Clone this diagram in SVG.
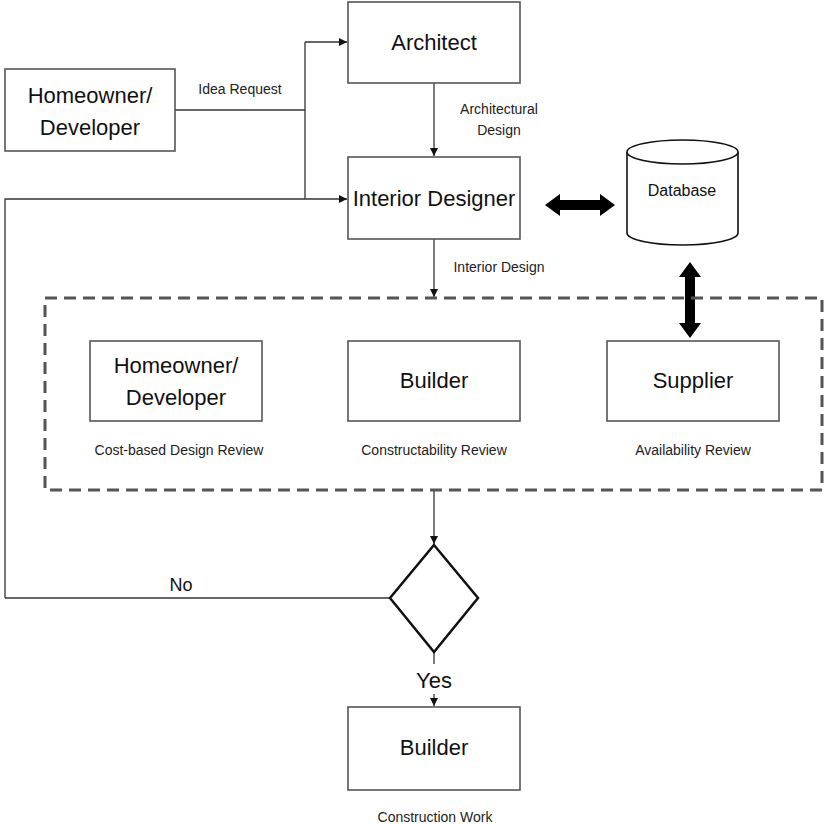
<svg xmlns="http://www.w3.org/2000/svg" width="827" height="824" viewBox="0 0 827 824">
<style>
.box{fill:#fff;stroke:#555;stroke-width:1.6}
.big{font-family:"Liberation Sans",Arial,sans-serif;font-size:22px;fill:#111;text-anchor:middle}
.sm{font-family:"Liberation Sans",Arial,sans-serif;font-size:14px;fill:#222;text-anchor:middle}
.ln{fill:none;stroke:#333;stroke-width:1.3}
.thick{fill:#000;stroke:none}
</style>
<defs>
<marker id="ah" viewBox="0 0 10 10" refX="10" refY="5" markerWidth="8" markerHeight="8" markerUnits="userSpaceOnUse" orient="auto">
<path d="M0,0 L10,5 L0,10 z" fill="#111"/>
</marker>
</defs>
<rect width="827" height="824" fill="#fff"/>
<g id="connectors">
<path class="ln" d="M175,110 H305"/>
<path class="ln" d="M305,42 V199"/>
<path class="ln" d="M305,42 H347" marker-end="url(#ah)"/>
<path class="ln" d="M5,598 V199 H347" marker-end="url(#ah)"/>
<path class="ln" d="M434,83 V156" marker-end="url(#ah)"/>
<path class="ln" d="M434,239 V297" marker-end="url(#ah)"/>
<path class="ln" d="M434,491 V544" marker-end="url(#ah)"/>
<path class="ln" d="M390,598 H5"/>
<path class="ln" d="M434,652 V664"/>
<path class="ln" d="M434,694 V706" marker-end="url(#ah)"/>
<path class="thick" d="M545,205 L560,194 L560,200 L600,200 L600,194 L615,205 L600,216 L600,210 L560,210 L560,216 Z"/>
<path class="thick" d="M690,262 L701,277 L695,277 L695,323 L701,323 L690,338 L679,323 L685,323 L685,277 L679,277 Z"/>
<text class="sm" x="240" y="94">Idea Request</text>
<text class="sm" x="499" y="114">Architectural</text>
<text class="sm" x="499" y="135">Design</text>
<text class="sm" x="499" y="272">Interior Design</text>
<text x="181" y="591" style="font-family:'Liberation Sans',Arial,sans-serif;font-size:18px;fill:#111;text-anchor:middle">No</text>
<text class="big" x="434" y="688">Yes</text>
</g>
<g id="homeowner">
<rect class="box" x="5" y="69" width="170" height="82"/>
<text class="big" x="90" y="103">Homeowner/</text>
<text class="big" x="90" y="135">Developer</text>
</g>
<g id="architect">
<rect class="box" x="348" y="2" width="172" height="81"/>
<text class="big" x="434" y="50">Architect</text>
</g>
<g id="interior-designer">
<rect class="box" x="348" y="157" width="172" height="82"/>
<text class="big" x="434" y="206">Interior Designer</text>
</g>
<g id="database">
<path d="M627,152 V233 A55.5,12 0 0 0 738,233 V152" fill="#fff" stroke="#111" stroke-width="1.6"/>
<ellipse cx="682.5" cy="152" rx="55.5" ry="12" fill="#fff" stroke="#111" stroke-width="1.6"/>
<text x="682" y="196" style="font-family:'Liberation Sans',Arial,sans-serif;font-size:16px;fill:#111;text-anchor:middle">Database</text>
</g>
<g id="review-group">
<rect x="45" y="298" width="777" height="192" fill="none" stroke="#555" stroke-width="3" stroke-dasharray="12 7"/>
</g>
<g id="review-homeowner">
<rect class="box" x="90" y="341" width="172" height="80"/>
<text class="big" x="176" y="373">Homeowner/</text>
<text class="big" x="176" y="405">Developer</text>
<text class="sm" x="179" y="455">Cost-based Design Review</text>
</g>
<g id="review-builder">
<rect class="box" x="348" y="341" width="172" height="80"/>
<text class="big" x="434" y="388">Builder</text>
<text class="sm" x="434" y="455">Constructability Review</text>
</g>
<g id="review-supplier">
<rect class="box" x="607" y="341" width="172" height="80"/>
<text class="big" x="693" y="388">Supplier</text>
<text class="sm" x="693" y="455">Availability Review</text>
</g>
<g id="decision">
<path d="M434,545 L478,598 L434,652 L390,598 Z" fill="#fff" stroke="#111" stroke-width="2.5"/>
</g>
<g id="builder-final">
<rect class="box" x="348" y="707" width="172" height="83"/>
<text class="big" x="434" y="755">Builder</text>
<text class="sm" x="435" y="822">Construction Work</text>
</g>
</svg>
